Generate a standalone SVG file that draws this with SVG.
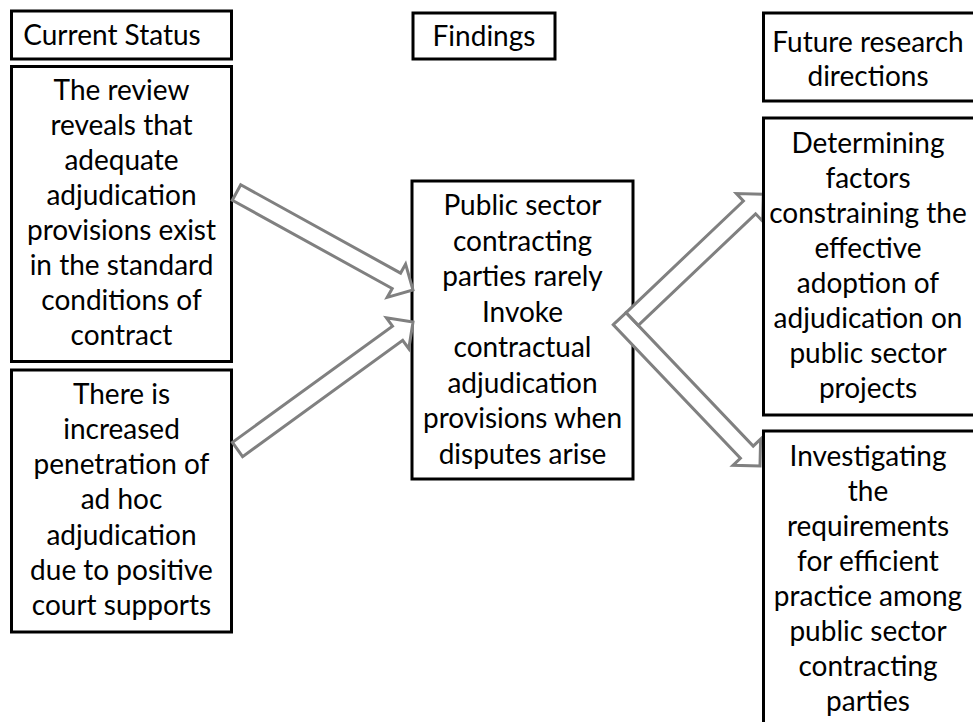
<svg xmlns="http://www.w3.org/2000/svg" width="973" height="722" viewBox="0 0 973 722">
  <style>
    .box { fill: #ffffff; stroke: #000000; stroke-width: 3; }
    .arrow { fill: #ffffff; stroke: #808080; stroke-width: 3; stroke-linejoin: miter; }
    text { font-family: "Lato", "Liberation Sans", sans-serif; font-size: 28px; fill: #000000; text-anchor: middle; }
  </style>
  <rect width="973" height="722" fill="#ffffff"/>

  <!-- left column -->
  <g id="current-status">
    <rect class="box" x="11.5" y="11" width="220" height="48"/>
    <text x="112" y="45">Current Status</text>
  </g>
  <g id="review">
    <rect class="box" x="11.5" y="66.5" width="220" height="295"/>
    <text x="121.5" y="100">The review</text>
    <text x="121.5" y="135">reveals that</text>
    <text x="121.5" y="170">adequate</text>
    <text x="121.5" y="205">adjudication</text>
    <text x="121.5" y="240">provisions exist</text>
    <text x="121.5" y="275">in the standard</text>
    <text x="121.5" y="310">conditions of</text>
    <text x="121.5" y="345">contract</text>
  </g>
  <g id="penetration">
    <rect class="box" x="11.5" y="370" width="220" height="262"/>
    <text x="121.5" y="403.5">There is</text>
    <text x="121.5" y="438.8">increased</text>
    <text x="121.5" y="474">penetration of</text>
    <text x="121.5" y="509.3">ad hoc</text>
    <text x="121.5" y="544.5">adjudication</text>
    <text x="121.5" y="579.8">due to positive</text>
    <text x="121.5" y="615">court supports</text>
  </g>

  <!-- middle column -->
  <g id="findings">
    <rect class="box" x="413" y="13" width="142" height="46"/>
    <text x="484" y="46">Findings</text>
  </g>
  <g id="finding-main">
    <rect class="box" x="412" y="181" width="221" height="298"/>
    <text x="522.5" y="215">Public sector</text>
    <text x="522.5" y="250.5">contracting</text>
    <text x="522.5" y="286">parties rarely</text>
    <text x="522.5" y="321.5">Invoke</text>
    <text x="522.5" y="357">contractual</text>
    <text x="522.5" y="392.5">adjudication</text>
    <text x="522.5" y="428">provisions when</text>
    <text x="522.5" y="463.5">disputes arise</text>
  </g>

  <!-- block arrows -->
  <g id="connectors">
    <polygon class="arrow" points="232.3,200.2 240.7,184.8 400.6,273.1 405.6,264.1 413,290 387.2,297.4 392.2,288.5"/>
    <polygon class="arrow" points="232.4,442.4 392.5,326.1 386.4,317.8 413,322 408.8,348.6 402.7,340.3 242.6,456.6"/>
    <polygon class="arrow" points="613.3,324.7 626.1,312.6 753.2,446.1 760.6,439.1 760,466 733,465.3 740.4,458.3"/>
    <polygon class="arrow" points="626.1,312.6 743.4,201 736.4,193.6 763.3,194.3 762.6,221.2 755.6,213.8 638.3,325.4"/>
  </g>

  <!-- right column -->
  <g id="future-directions">
    <rect class="box" x="763.5" y="13" width="230" height="88"/>
    <text x="868" y="52">Future research</text>
    <text x="868" y="86">directions</text>
  </g>
  <g id="constraining-factors">
    <rect class="box" x="763.5" y="118" width="230" height="297"/>
    <text x="868" y="153">Determining</text>
    <text x="868" y="188">factors</text>
    <text x="868" y="223">constraining the</text>
    <text x="868" y="258">effective</text>
    <text x="868" y="293">adoption of</text>
    <text x="868" y="328">adjudication on</text>
    <text x="868" y="363">public sector</text>
    <text x="868" y="398">projects</text>
  </g>
  <g id="efficient-practice">
    <rect class="box" x="763.5" y="431" width="230" height="310"/>
    <text x="868" y="466">Investigating</text>
    <text x="868" y="501">the</text>
    <text x="868" y="536">requirements</text>
    <text x="868" y="571">for efficient</text>
    <text x="868" y="606">practice among</text>
    <text x="868" y="641">public sector</text>
    <text x="868" y="676">contracting</text>
    <text x="868" y="711">parties</text>
  </g>
</svg>
